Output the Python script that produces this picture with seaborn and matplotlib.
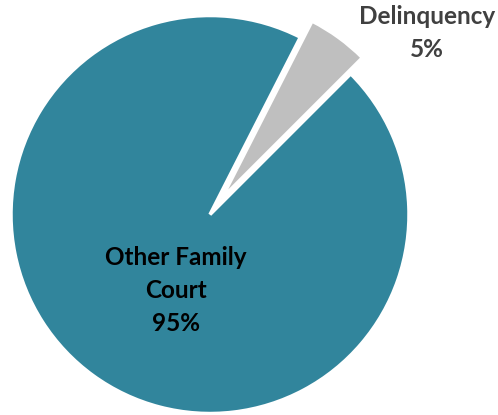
import matplotlib
matplotlib.use("Agg")
import matplotlib.pyplot as plt
import seaborn as sns

# Share of family court caseload
categories = ["Delinquency", "Other Family\nCourt"]
shares = [5, 95]
colors = ["#BFBFBF", "#31859C"]
label_colors = ["#404040", "#000000"]

sns.set_theme(style="white")
plt.rcParams["font.family"] = ["Lato", "DejaVu Sans"]

fig = plt.figure(figsize=(4.98, 4.15), dpi=100)
ax = fig.add_axes([0, 0, 1, 1])

wedges, _ = ax.pie(
    shares,
    colors=colors,
    startangle=45,
    counterclock=True,
    explode=[0.1, 0.0],
    radius=1.0,
    wedgeprops=dict(edgecolor="white", linewidth=2.5),
)

total = sum(shares)
label_pos = [(1.09, 0.91), (-0.171, -0.384)]
for name, val, col, (x, y) in zip(categories, shares, label_colors, label_pos):
    ax.text(x, y, f"{name}\n{val / total:.0%}", ha="center", va="center",
            fontsize=17.5, fontweight="bold", color=col, linespacing=1.53)

ax.set_aspect("equal")
ax.set_xlim(-1.055, 1.447)
ax.set_ylim(-1.0075, 1.078)
ax.axis("off")

fig.savefig("out.png", dpi=100)
